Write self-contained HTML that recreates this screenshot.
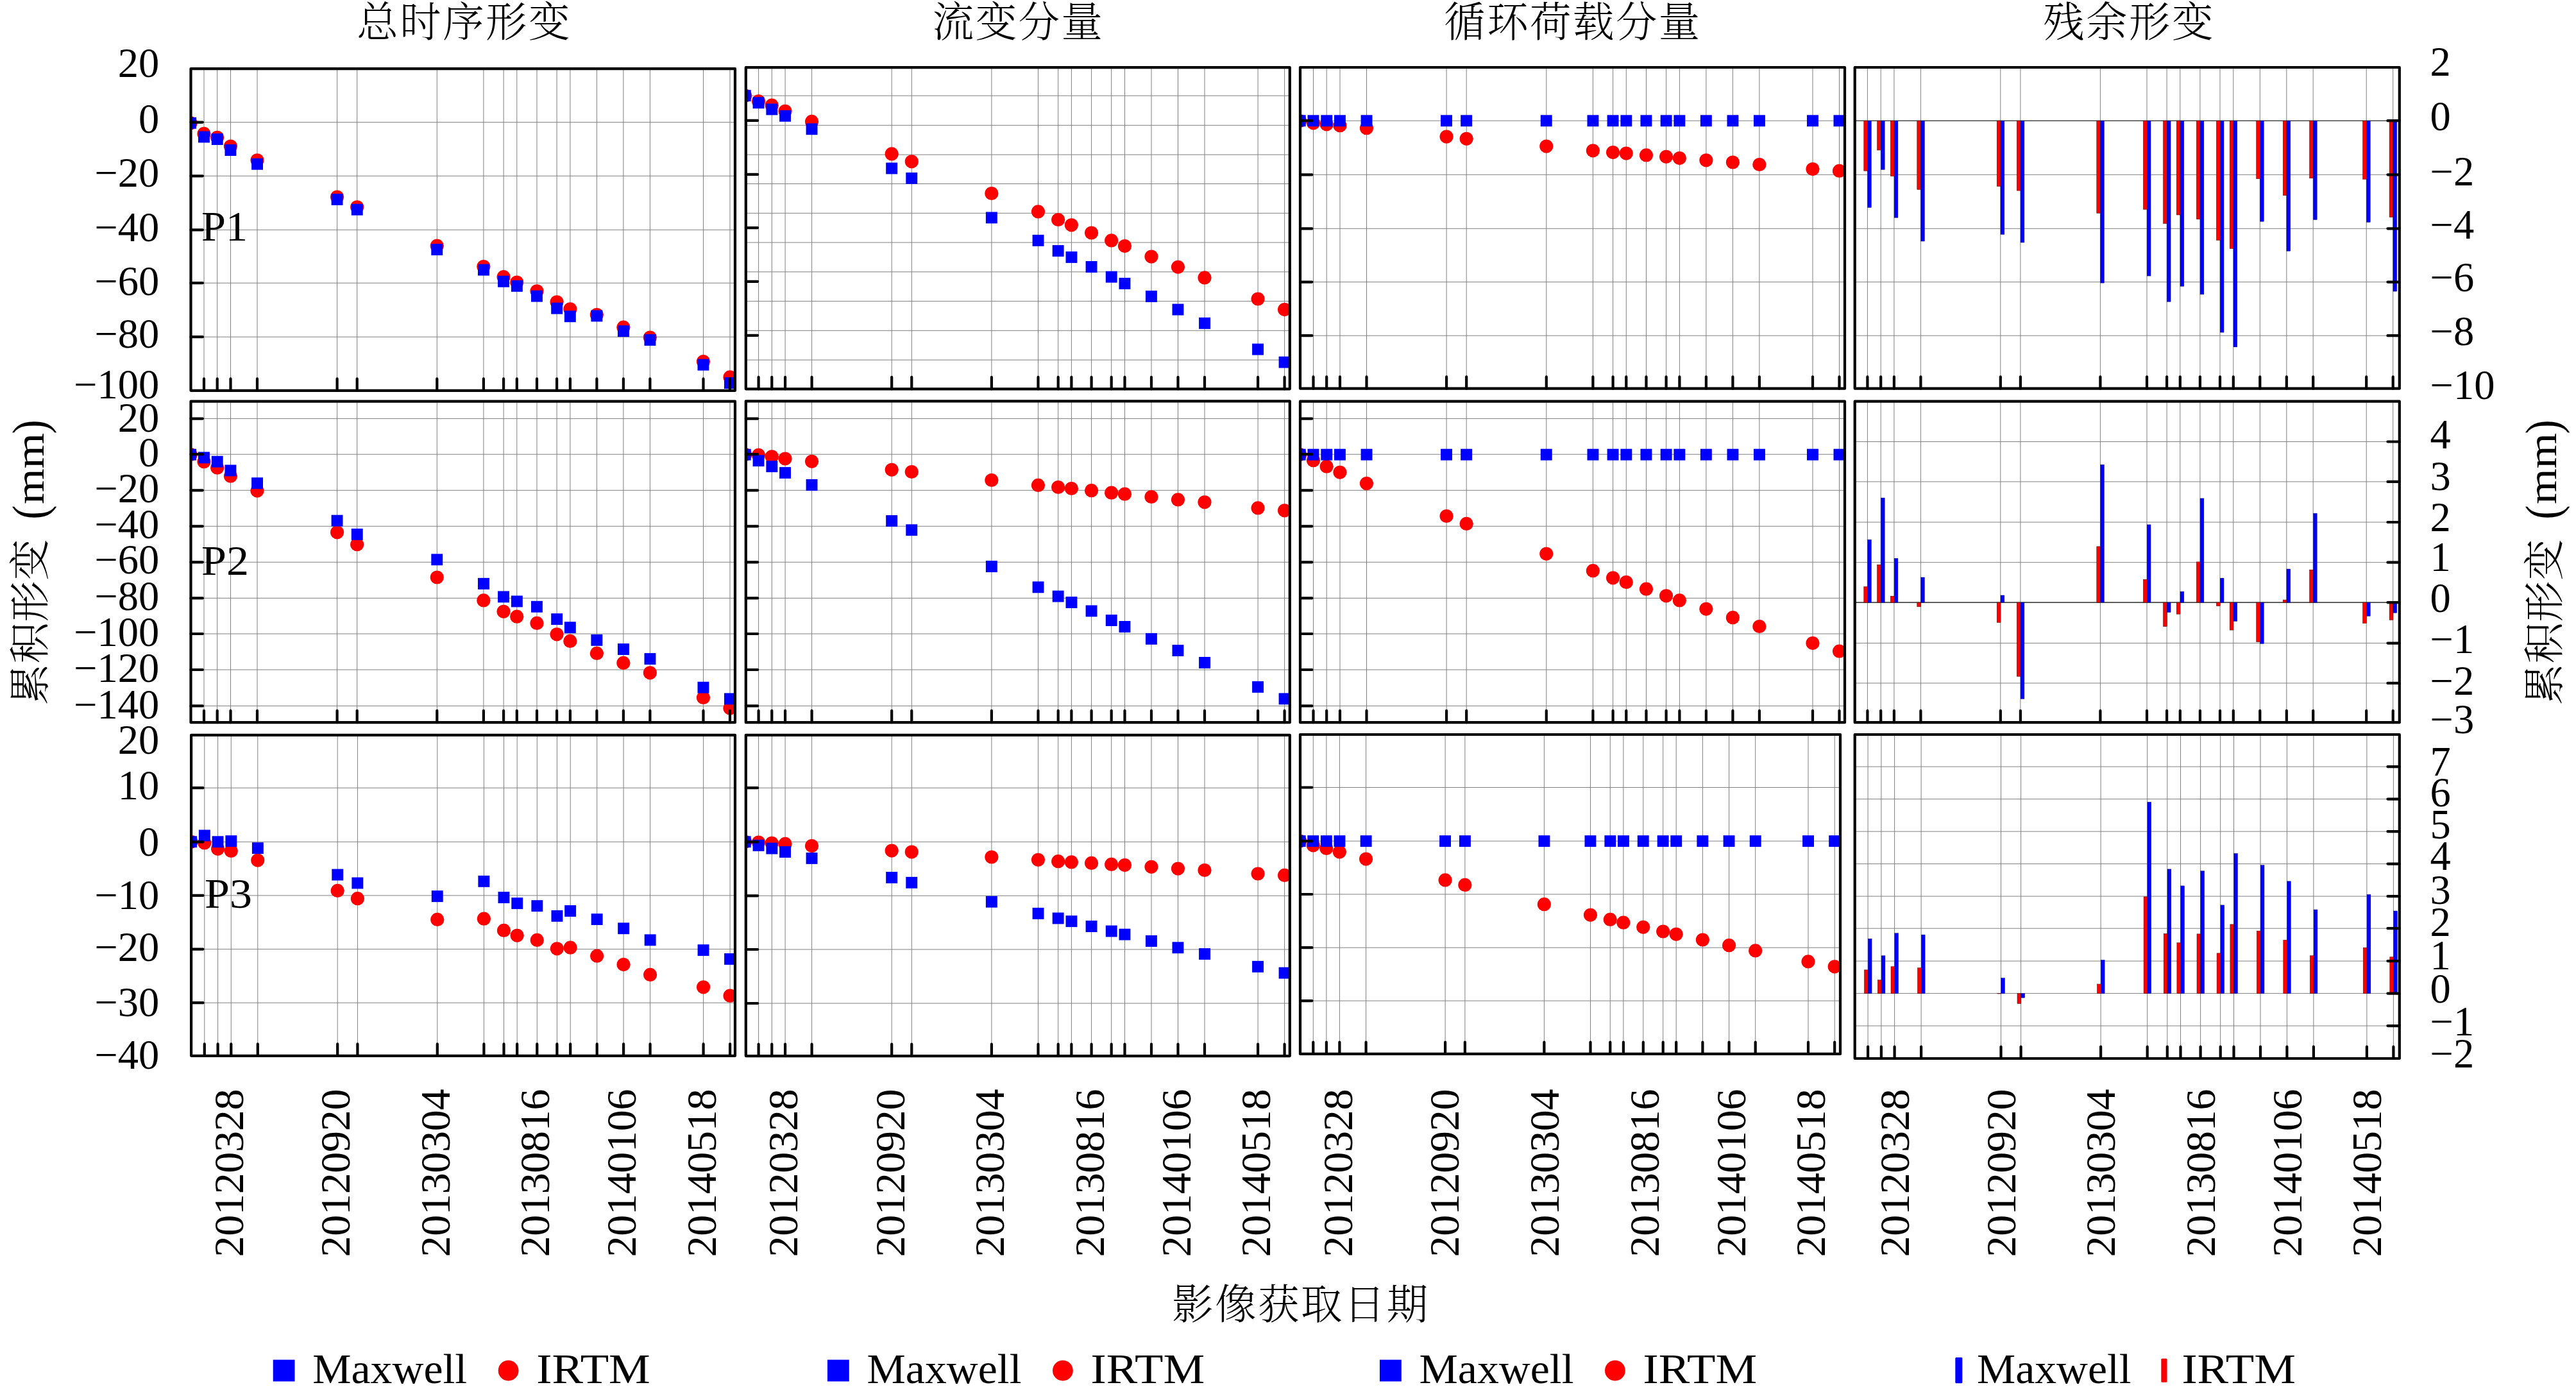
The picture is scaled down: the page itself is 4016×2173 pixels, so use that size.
<!DOCTYPE html>
<html lang="zh"><head><meta charset="utf-8"><title>Time-series deformation</title>
<style>html,body{margin:0;padding:0;background:#fff}svg{display:block}</style></head>
<body>
<svg width="4016" height="2173" viewBox="0 0 4016 2173">
<rect width="4016" height="2173" fill="#fff"/>
<defs>
<clipPath id="c11"><rect x="297.5" y="107.2" width="848.5" height="501.6"/></clipPath>
<clipPath id="c12"><rect x="1162.8" y="105.2" width="848" height="501.1"/></clipPath>
<clipPath id="c13"><rect x="2027" y="105" width="849" height="500.7"/></clipPath>
<clipPath id="c14"><rect x="2891.7" y="105" width="849.1" height="500.7"/></clipPath>
<clipPath id="c21"><rect x="297.5" y="625.7" width="848.5" height="500.5"/></clipPath>
<clipPath id="c22"><rect x="1162.8" y="625.3" width="848" height="500.9"/></clipPath>
<clipPath id="c23"><rect x="2027" y="625.7" width="849" height="500.5"/></clipPath>
<clipPath id="c24"><rect x="2891.7" y="625.7" width="849.1" height="500.5"/></clipPath>
<clipPath id="c31"><rect x="298.1" y="1145.8" width="847.9" height="500"/></clipPath>
<clipPath id="c32"><rect x="1162.8" y="1145.8" width="848" height="500.3"/></clipPath>
<clipPath id="c33"><rect x="2027" y="1145" width="842" height="497.9"/></clipPath>
<clipPath id="c34"><rect x="2891.7" y="1145" width="849.1" height="505"/></clipPath>
</defs>
<g id="p11">
<path d="M318 107.2V608.8M338.7 107.2V608.8M359.5 107.2V608.8M401 107.2V608.8M525.6 107.2V608.8M556.7 107.2V608.8M681.3 107.2V608.8M753.9 107.2V608.8M785.1 107.2V608.8M805.8 107.2V608.8M837 107.2V608.8M868.1 107.2V608.8M888.9 107.2V608.8M930.4 107.2V608.8M971.9 107.2V608.8M1013.4 107.2V608.8M1096.5 107.2V608.8M1138 107.2V608.8M297.5 190.6H1146M297.5 274.3H1146M297.5 358.3H1146M297.5 441.2H1146M297.5 525.2H1146" stroke="#808080" stroke-width="1.0" fill="none"/>
<g clip-path="url(#c11)">
<g fill="#f00"><circle cx="297.2" cy="191.8" r="10.6"/><circle cx="318" cy="208.4" r="10.6"/><circle cx="338.7" cy="214.3" r="10.6"/><circle cx="359.5" cy="228.1" r="10.6"/><circle cx="401" cy="249.8" r="10.6"/><circle cx="525.6" cy="307" r="10.6"/><circle cx="556.7" cy="322.8" r="10.6"/><circle cx="681.3" cy="383.2" r="10.6"/><circle cx="753.9" cy="415.5" r="10.6"/><circle cx="785.1" cy="431.7" r="10.6"/><circle cx="805.8" cy="440" r="10.6"/><circle cx="837" cy="453.8" r="10.6"/><circle cx="868.1" cy="470.8" r="10.6"/><circle cx="888.9" cy="481.8" r="10.6"/><circle cx="930.4" cy="490.5" r="10.6"/><circle cx="971.9" cy="510.2" r="10.6"/><circle cx="1013.4" cy="526" r="10.6"/><circle cx="1096.5" cy="563.5" r="10.6"/><circle cx="1138" cy="587.9" r="10.6"/></g>
<g fill="#00f"><rect x="288.2" y="182.8" width="17.9" height="17.9"/><rect x="309" y="204.5" width="17.9" height="17.9"/><rect x="329.8" y="208.1" width="17.9" height="17.9"/><rect x="350.5" y="225.1" width="17.9" height="17.9"/><rect x="392.1" y="246.8" width="17.9" height="17.9"/><rect x="516.6" y="302" width="17.9" height="17.9"/><rect x="547.8" y="317.8" width="17.9" height="17.9"/><rect x="672.3" y="380.1" width="17.9" height="17.9"/><rect x="745" y="411.7" width="17.9" height="17.9"/><rect x="776.1" y="429.8" width="17.9" height="17.9"/><rect x="796.9" y="436.9" width="17.9" height="17.9"/><rect x="828" y="452.7" width="17.9" height="17.9"/><rect x="859.2" y="471.7" width="17.9" height="17.9"/><rect x="879.9" y="484.3" width="17.9" height="17.9"/><rect x="921.4" y="483.5" width="17.9" height="17.9"/><rect x="963" y="507.2" width="17.9" height="17.9"/><rect x="1004.5" y="521" width="17.9" height="17.9"/><rect x="1087.5" y="559.7" width="17.9" height="17.9"/><rect x="1129" y="588.1" width="17.9" height="17.9"/></g>
</g>
<path d="M318 608.8V590.4M338.7 608.8V590.4M359.5 608.8V590.4M401 608.8V590.4M525.6 608.8V590.4M556.7 608.8V590.4M681.3 608.8V590.4M753.9 608.8V590.4M785.1 608.8V590.4M805.8 608.8V590.4M837 608.8V590.4M868.1 608.8V590.4M888.9 608.8V590.4M930.4 608.8V590.4M971.9 608.8V590.4M1013.4 608.8V590.4M1096.5 608.8V590.4M1138 608.8V590.4M297.5 190.6H315.9M297.5 274.3H315.9M297.5 358.3H315.9M297.5 441.2H315.9M297.5 525.2H315.9" stroke="#000" stroke-width="4.2" stroke-linecap="round" fill="none"/>
<rect x="297.5" y="107.2" width="848.5" height="501.6" fill="none" stroke="#000" stroke-width="4.2" stroke-linejoin="round"/>
</g>
<g id="p12">
<path d="M1182.6 105.2V606.3M1203.3 105.2V606.3M1224.1 105.2V606.3M1265.6 105.2V606.3M1390.2 105.2V606.3M1421.3 105.2V606.3M1545.9 105.2V606.3M1618.5 105.2V606.3M1649.7 105.2V606.3M1670.4 105.2V606.3M1701.6 105.2V606.3M1732.7 105.2V606.3M1753.5 105.2V606.3M1795 105.2V606.3M1836.5 105.2V606.3M1878 105.2V606.3M1961.1 105.2V606.3M2002.6 105.2V606.3M1162.8 149.2H2010.8M1162.8 195.3H2010.8M1162.8 241.1H2010.8M1162.8 286.5H2010.8M1162.8 332.3H2010.8M1162.8 378H2010.8M1162.8 423.8H2010.8M1162.8 469.6H2010.8M1162.8 515.3H2010.8M1162.8 561.1H2010.8" stroke="#808080" stroke-width="1.0" fill="none"/>
<g clip-path="url(#c12)">
<g fill="#f00"><circle cx="1161.8" cy="149.2" r="10.6"/><circle cx="1182.6" cy="157.9" r="10.6"/><circle cx="1203.3" cy="164.2" r="10.6"/><circle cx="1224.1" cy="173.3" r="10.6"/><circle cx="1265.6" cy="189.4" r="10.6"/><circle cx="1390.2" cy="239.9" r="10.6"/><circle cx="1421.3" cy="251.8" r="10.6"/><circle cx="1545.9" cy="301.5" r="10.6"/><circle cx="1618.5" cy="329.9" r="10.6"/><circle cx="1649.7" cy="342.5" r="10.6"/><circle cx="1670.4" cy="350.8" r="10.6"/><circle cx="1701.6" cy="363" r="10.6"/><circle cx="1732.7" cy="374.9" r="10.6"/><circle cx="1753.5" cy="383.6" r="10.6"/><circle cx="1795" cy="400.1" r="10.6"/><circle cx="1836.5" cy="416.3" r="10.6"/><circle cx="1878" cy="432.9" r="10.6"/><circle cx="1961.1" cy="466" r="10.6"/><circle cx="2002.6" cy="482.6" r="10.6"/></g>
<g fill="#00f"><rect x="1152.8" y="140.2" width="17.9" height="17.9"/><rect x="1173.6" y="151.3" width="17.9" height="17.9"/><rect x="1194.4" y="161.5" width="17.9" height="17.9"/><rect x="1215.1" y="171.8" width="17.9" height="17.9"/><rect x="1256.6" y="192.3" width="17.9" height="17.9"/><rect x="1381.2" y="253.5" width="17.9" height="17.9"/><rect x="1412.3" y="268.9" width="17.9" height="17.9"/><rect x="1536.9" y="330.4" width="17.9" height="17.9"/><rect x="1609.6" y="365.9" width="17.9" height="17.9"/><rect x="1640.7" y="382.1" width="17.9" height="17.9"/><rect x="1661.5" y="392" width="17.9" height="17.9"/><rect x="1692.6" y="407" width="17.9" height="17.9"/><rect x="1723.8" y="422.7" width="17.9" height="17.9"/><rect x="1744.5" y="433" width="17.9" height="17.9"/><rect x="1786" y="453.1" width="17.9" height="17.9"/><rect x="1827.5" y="473.6" width="17.9" height="17.9"/><rect x="1869.1" y="494.9" width="17.9" height="17.9"/><rect x="1952.1" y="535.6" width="17.9" height="17.9"/><rect x="1993.6" y="555.7" width="17.9" height="17.9"/></g>
</g>
<path d="M1182.6 606.3V587.9M1203.3 606.3V587.9M1224.1 606.3V587.9M1265.6 606.3V587.9M1390.2 606.3V587.9M1421.3 606.3V587.9M1545.9 606.3V587.9M1618.5 606.3V587.9M1649.7 606.3V587.9M1670.4 606.3V587.9M1701.6 606.3V587.9M1732.7 606.3V587.9M1753.5 606.3V587.9M1795 606.3V587.9M1836.5 606.3V587.9M1878 606.3V587.9M1961.1 606.3V587.9M2002.6 606.3V587.9M1162.8 187.9H1181.2M1162.8 271.9H1181.2M1162.8 355.1H1181.2M1162.8 438.8H1181.2M1162.8 522.8H1181.2" stroke="#000" stroke-width="4.2" stroke-linecap="round" fill="none"/>
<rect x="1162.8" y="105.2" width="848" height="501.1" fill="none" stroke="#000" stroke-width="4.2" stroke-linejoin="round"/>
</g>
<g id="p13">
<path d="M2047.5 105V605.7M2068.2 105V605.7M2089 105V605.7M2130.5 105V605.7M2255.1 105V605.7M2286.2 105V605.7M2410.8 105V605.7M2483.4 105V605.7M2514.6 105V605.7M2535.3 105V605.7M2566.5 105V605.7M2597.6 105V605.7M2618.4 105V605.7M2659.9 105V605.7M2701.4 105V605.7M2742.9 105V605.7M2826 105V605.7M2867.5 105V605.7M2027 188.2H2876M2027 272.3H2876M2027 356.3H2876M2027 439.6H2876M2027 523.2H2876" stroke="#808080" stroke-width="1.0" fill="none"/>
<g clip-path="url(#c13)">
<g fill="#f00"><circle cx="2026.7" cy="188.6" r="10.6"/><circle cx="2047.5" cy="191.8" r="10.6"/><circle cx="2068.2" cy="193.8" r="10.6"/><circle cx="2089" cy="195.7" r="10.6"/><circle cx="2130.5" cy="199.7" r="10.6"/><circle cx="2255.1" cy="213.1" r="10.6"/><circle cx="2286.2" cy="216.3" r="10.6"/><circle cx="2410.8" cy="228.1" r="10.6"/><circle cx="2483.4" cy="234.8" r="10.6"/><circle cx="2514.6" cy="237.6" r="10.6"/><circle cx="2535.3" cy="239.1" r="10.6"/><circle cx="2566.5" cy="241.9" r="10.6"/><circle cx="2597.6" cy="244.3" r="10.6"/><circle cx="2618.4" cy="246.6" r="10.6"/><circle cx="2659.9" cy="249.8" r="10.6"/><circle cx="2701.4" cy="253" r="10.6"/><circle cx="2742.9" cy="256.5" r="10.6"/><circle cx="2826" cy="263.6" r="10.6"/><circle cx="2867.5" cy="266.4" r="10.6"/></g>
<g fill="#00f"><rect x="2017.8" y="179.3" width="17.9" height="17.9"/><rect x="2038.5" y="179.3" width="17.9" height="17.9"/><rect x="2059.3" y="179.3" width="17.9" height="17.9"/><rect x="2080" y="179.3" width="17.9" height="17.9"/><rect x="2121.6" y="179.3" width="17.9" height="17.9"/><rect x="2246.1" y="179.3" width="17.9" height="17.9"/><rect x="2277.2" y="179.3" width="17.9" height="17.9"/><rect x="2401.8" y="179.3" width="17.9" height="17.9"/><rect x="2474.5" y="179.3" width="17.9" height="17.9"/><rect x="2505.6" y="179.3" width="17.9" height="17.9"/><rect x="2526.4" y="179.3" width="17.9" height="17.9"/><rect x="2557.5" y="179.3" width="17.9" height="17.9"/><rect x="2588.7" y="179.3" width="17.9" height="17.9"/><rect x="2609.4" y="179.3" width="17.9" height="17.9"/><rect x="2650.9" y="179.3" width="17.9" height="17.9"/><rect x="2692.5" y="179.3" width="17.9" height="17.9"/><rect x="2734" y="179.3" width="17.9" height="17.9"/><rect x="2817" y="179.3" width="17.9" height="17.9"/><rect x="2858.5" y="179.3" width="17.9" height="17.9"/></g>
</g>
<path d="M2047.5 605.7V587.3M2068.2 605.7V587.3M2089 605.7V587.3M2130.5 605.7V587.3M2255.1 605.7V587.3M2286.2 605.7V587.3M2410.8 605.7V587.3M2483.4 605.7V587.3M2514.6 605.7V587.3M2535.3 605.7V587.3M2566.5 605.7V587.3M2597.6 605.7V587.3M2618.4 605.7V587.3M2659.9 605.7V587.3M2701.4 605.7V587.3M2742.9 605.7V587.3M2826 605.7V587.3M2867.5 605.7V587.3M2027 188.2H2045.4M2027 272.3H2045.4M2027 356.3H2045.4M2027 439.6H2045.4M2027 523.2H2045.4" stroke="#000" stroke-width="4.2" stroke-linecap="round" fill="none"/>
<rect x="2027" y="105" width="849" height="500.7" fill="none" stroke="#000" stroke-width="4.2" stroke-linejoin="round"/>
</g>
<g id="p14">
<path d="M2911.4 105V605.7M2932.2 105V605.7M2952.9 105V605.7M2994.4 105V605.7M3118.8 105V605.7M3149.9 105V605.7M3274.4 105V605.7M3347 105V605.7M3378.1 105V605.7M3398.8 105V605.7M3429.9 105V605.7M3461 105V605.7M3481.8 105V605.7M3523.3 105V605.7M3564.8 105V605.7M3606.2 105V605.7M3689.2 105V605.7M3730.7 105V605.7M2891.7 188.2H3740.8M2891.7 272.3H3740.8M2891.7 356.3H3740.8M2891.7 439.6H3740.8M2891.7 523.2H3740.8" stroke="#808080" stroke-width="1.0" fill="none"/>
<g clip-path="url(#c14)">
<path d="M2891.7 188.2H3740.8" stroke="#222" stroke-width="1.1"/>
<g fill="#f00" stroke="#400" stroke-width="0.5"><rect x="2905.8" y="188.2" width="5.8" height="78.1"/><rect x="2926.6" y="188.2" width="5.8" height="45.8"/><rect x="2947.3" y="188.2" width="5.8" height="86.4"/><rect x="2988.8" y="188.2" width="5.8" height="107.3"/><rect x="3113.2" y="188.2" width="5.8" height="102.2"/><rect x="3144.3" y="188.2" width="5.8" height="108.9"/><rect x="3268.8" y="188.2" width="5.8" height="144"/><rect x="3341.4" y="188.2" width="5.8" height="138.1"/><rect x="3372.5" y="188.2" width="5.8" height="160.2"/><rect x="3393.2" y="188.2" width="5.8" height="146.8"/><rect x="3424.3" y="188.2" width="5.8" height="153.5"/><rect x="3455.4" y="188.2" width="5.8" height="186.2"/><rect x="3476.2" y="188.2" width="5.8" height="199.3"/><rect x="3517.7" y="188.2" width="5.8" height="90.4"/><rect x="3559.2" y="188.2" width="5.8" height="116.4"/><rect x="3600.6" y="188.2" width="5.8" height="89.6"/><rect x="3683.6" y="188.2" width="5.8" height="91.1"/><rect x="3725.1" y="188.2" width="5.8" height="150.3"/></g>
<g fill="#00f" stroke="#004" stroke-width="0.4"><rect x="2911.6" y="188.2" width="5.8" height="135.3"/><rect x="2932.4" y="188.2" width="5.8" height="76.2"/><rect x="2953.1" y="188.2" width="5.8" height="151.1"/><rect x="2994.6" y="188.2" width="5.8" height="187.8"/><rect x="3119" y="188.2" width="5.8" height="177.2"/><rect x="3150.1" y="188.2" width="5.8" height="189.8"/><rect x="3274.6" y="188.2" width="5.8" height="252.9"/><rect x="3347.2" y="188.2" width="5.8" height="241.9"/><rect x="3378.3" y="188.2" width="5.8" height="282.1"/><rect x="3399" y="188.2" width="5.8" height="258"/><rect x="3430.1" y="188.2" width="5.8" height="270.7"/><rect x="3461.2" y="188.2" width="5.8" height="329.9"/><rect x="3482" y="188.2" width="5.8" height="352.7"/><rect x="3523.5" y="188.2" width="5.8" height="157"/><rect x="3564.9" y="188.2" width="5.8" height="203.2"/><rect x="3606.4" y="188.2" width="5.8" height="154.3"/><rect x="3689.4" y="188.2" width="5.8" height="158.2"/><rect x="3730.9" y="188.2" width="5.8" height="265.9"/></g>
</g>
<path d="M2911.4 605.7V587.3M2932.2 605.7V587.3M2952.9 605.7V587.3M2994.4 605.7V587.3M3118.8 605.7V587.3M3149.9 605.7V587.3M3274.4 605.7V587.3M3347 605.7V587.3M3378.1 605.7V587.3M3398.8 605.7V587.3M3429.9 605.7V587.3M3461 605.7V587.3M3481.8 605.7V587.3M3523.3 605.7V587.3M3564.8 605.7V587.3M3606.2 605.7V587.3M3689.2 605.7V587.3M3730.7 605.7V587.3M3740.8 188.2H3722.4M3740.8 272.3H3722.4M3740.8 356.3H3722.4M3740.8 439.6H3722.4M3740.8 523.2H3722.4" stroke="#000" stroke-width="4.2" stroke-linecap="round" fill="none"/>
<rect x="2891.7" y="105" width="849.1" height="500.7" fill="none" stroke="#000" stroke-width="4.2" stroke-linejoin="round"/>
</g>
<g id="p21">
<path d="M318 625.7V1126.2M338.7 625.7V1126.2M359.5 625.7V1126.2M401 625.7V1126.2M525.6 625.7V1126.2M556.7 625.7V1126.2M681.3 625.7V1126.2M753.9 625.7V1126.2M785.1 625.7V1126.2M805.8 625.7V1126.2M837 625.7V1126.2M868.1 625.7V1126.2M888.9 625.7V1126.2M930.4 625.7V1126.2M971.9 625.7V1126.2M1013.4 625.7V1126.2M1096.5 625.7V1126.2M1138 625.7V1126.2M297.5 652.6H1146M297.5 708.2H1146M297.5 764.3H1146M297.5 820.3H1146M297.5 876.3H1146M297.5 932.4H1146M297.5 988H1146M297.5 1044H1146M297.5 1100.4H1146" stroke="#808080" stroke-width="1.0" fill="none"/>
<g clip-path="url(#c21)">
<g fill="#f00"><circle cx="297.2" cy="708.6" r="10.6"/><circle cx="318" cy="719.7" r="10.6"/><circle cx="338.7" cy="729.2" r="10.6"/><circle cx="359.5" cy="742.2" r="10.6"/><circle cx="401" cy="765.1" r="10.6"/><circle cx="525.6" cy="829.8" r="10.6"/><circle cx="556.7" cy="848.7" r="10.6"/><circle cx="681.3" cy="900" r="10.6"/><circle cx="753.9" cy="935.9" r="10.6"/><circle cx="785.1" cy="953.3" r="10.6"/><circle cx="805.8" cy="961.2" r="10.6"/><circle cx="837" cy="971.4" r="10.6"/><circle cx="868.1" cy="988.8" r="10.6"/><circle cx="888.9" cy="999.4" r="10.6"/><circle cx="930.4" cy="1018.4" r="10.6"/><circle cx="971.9" cy="1033.4" r="10.6"/><circle cx="1013.4" cy="1048.8" r="10.6"/><circle cx="1096.5" cy="1087.4" r="10.6"/><circle cx="1138" cy="1104" r="10.6"/></g>
<g fill="#00f"><rect x="288.2" y="699.7" width="17.9" height="17.9"/><rect x="309" y="704.4" width="17.9" height="17.9"/><rect x="329.8" y="710.7" width="17.9" height="17.9"/><rect x="350.5" y="724.5" width="17.9" height="17.9"/><rect x="392.1" y="744.3" width="17.9" height="17.9"/><rect x="516.6" y="802.7" width="17.9" height="17.9"/><rect x="547.8" y="824" width="17.9" height="17.9"/><rect x="672.3" y="863.4" width="17.9" height="17.9"/><rect x="745" y="900.9" width="17.9" height="17.9"/><rect x="776.1" y="921.4" width="17.9" height="17.9"/><rect x="796.9" y="928.5" width="17.9" height="17.9"/><rect x="828" y="936.8" width="17.9" height="17.9"/><rect x="859.2" y="956.2" width="17.9" height="17.9"/><rect x="879.9" y="969.2" width="17.9" height="17.9"/><rect x="921.4" y="988.9" width="17.9" height="17.9"/><rect x="963" y="1003.1" width="17.9" height="17.9"/><rect x="1004.5" y="1018.1" width="17.9" height="17.9"/><rect x="1087.5" y="1062.7" width="17.9" height="17.9"/><rect x="1129" y="1080.4" width="17.9" height="17.9"/></g>
</g>
<path d="M318 1126.2V1107.8M338.7 1126.2V1107.8M359.5 1126.2V1107.8M401 1126.2V1107.8M525.6 1126.2V1107.8M556.7 1126.2V1107.8M681.3 1126.2V1107.8M753.9 1126.2V1107.8M785.1 1126.2V1107.8M805.8 1126.2V1107.8M837 1126.2V1107.8M868.1 1126.2V1107.8M888.9 1126.2V1107.8M930.4 1126.2V1107.8M971.9 1126.2V1107.8M1013.4 1126.2V1107.8M1096.5 1126.2V1107.8M1138 1126.2V1107.8M297.5 652.6H315.9M297.5 708.2H315.9M297.5 764.3H315.9M297.5 820.3H315.9M297.5 876.3H315.9M297.5 932.4H315.9M297.5 988H315.9M297.5 1044H315.9M297.5 1100.4H315.9" stroke="#000" stroke-width="4.2" stroke-linecap="round" fill="none"/>
<rect x="297.5" y="625.7" width="848.5" height="500.5" fill="none" stroke="#000" stroke-width="4.2" stroke-linejoin="round"/>
</g>
<g id="p22">
<path d="M1182.6 625.3V1126.2M1203.3 625.3V1126.2M1224.1 625.3V1126.2M1265.6 625.3V1126.2M1390.2 625.3V1126.2M1421.3 625.3V1126.2M1545.9 625.3V1126.2M1618.5 625.3V1126.2M1649.7 625.3V1126.2M1670.4 625.3V1126.2M1701.6 625.3V1126.2M1732.7 625.3V1126.2M1753.5 625.3V1126.2M1795 625.3V1126.2M1836.5 625.3V1126.2M1878 625.3V1126.2M1961.1 625.3V1126.2M2002.6 625.3V1126.2M1162.8 652.6H2010.8M1162.8 708.2H2010.8M1162.8 764.3H2010.8M1162.8 820.3H2010.8M1162.8 876.3H2010.8M1162.8 932.4H2010.8M1162.8 988H2010.8M1162.8 1044H2010.8M1162.8 1100.4H2010.8" stroke="#808080" stroke-width="1.0" fill="none"/>
<g clip-path="url(#c22)">
<g fill="#f00"><circle cx="1161.8" cy="708.6" r="10.6"/><circle cx="1182.6" cy="709.4" r="10.6"/><circle cx="1203.3" cy="711.8" r="10.6"/><circle cx="1224.1" cy="715" r="10.6"/><circle cx="1265.6" cy="719.3" r="10.6"/><circle cx="1390.2" cy="732.3" r="10.6"/><circle cx="1421.3" cy="735.5" r="10.6"/><circle cx="1545.9" cy="748.5" r="10.6"/><circle cx="1618.5" cy="756.4" r="10.6"/><circle cx="1649.7" cy="759.5" r="10.6"/><circle cx="1670.4" cy="761.5" r="10.6"/><circle cx="1701.6" cy="764.7" r="10.6"/><circle cx="1732.7" cy="768.2" r="10.6"/><circle cx="1753.5" cy="770.2" r="10.6"/><circle cx="1795" cy="774.5" r="10.6"/><circle cx="1836.5" cy="778.9" r="10.6"/><circle cx="1878" cy="782.8" r="10.6"/><circle cx="1961.1" cy="791.9" r="10.6"/><circle cx="2002.6" cy="795.8" r="10.6"/></g>
<g fill="#00f"><rect x="1152.8" y="699.7" width="17.9" height="17.9"/><rect x="1173.6" y="709.2" width="17.9" height="17.9"/><rect x="1194.4" y="718.2" width="17.9" height="17.9"/><rect x="1215.1" y="728.1" width="17.9" height="17.9"/><rect x="1256.6" y="747" width="17.9" height="17.9"/><rect x="1381.2" y="803.1" width="17.9" height="17.9"/><rect x="1412.3" y="817.3" width="17.9" height="17.9"/><rect x="1536.9" y="874.1" width="17.9" height="17.9"/><rect x="1609.6" y="906.4" width="17.9" height="17.9"/><rect x="1640.7" y="920.6" width="17.9" height="17.9"/><rect x="1661.5" y="930.1" width="17.9" height="17.9"/><rect x="1692.6" y="943.5" width="17.9" height="17.9"/><rect x="1723.8" y="958.1" width="17.9" height="17.9"/><rect x="1744.5" y="968" width="17.9" height="17.9"/><rect x="1786" y="986.9" width="17.9" height="17.9"/><rect x="1827.5" y="1005.1" width="17.9" height="17.9"/><rect x="1869.1" y="1024" width="17.9" height="17.9"/><rect x="1952.1" y="1061.9" width="17.9" height="17.9"/><rect x="1993.6" y="1080.4" width="17.9" height="17.9"/></g>
</g>
<path d="M1182.6 1126.2V1107.8M1203.3 1126.2V1107.8M1224.1 1126.2V1107.8M1265.6 1126.2V1107.8M1390.2 1126.2V1107.8M1421.3 1126.2V1107.8M1545.9 1126.2V1107.8M1618.5 1126.2V1107.8M1649.7 1126.2V1107.8M1670.4 1126.2V1107.8M1701.6 1126.2V1107.8M1732.7 1126.2V1107.8M1753.5 1126.2V1107.8M1795 1126.2V1107.8M1836.5 1126.2V1107.8M1878 1126.2V1107.8M1961.1 1126.2V1107.8M2002.6 1126.2V1107.8M1162.8 652.6H1181.2M1162.8 708.2H1181.2M1162.8 764.3H1181.2M1162.8 820.3H1181.2M1162.8 876.3H1181.2M1162.8 932.4H1181.2M1162.8 988H1181.2M1162.8 1044H1181.2M1162.8 1100.4H1181.2" stroke="#000" stroke-width="4.2" stroke-linecap="round" fill="none"/>
<rect x="1162.8" y="625.3" width="848" height="500.9" fill="none" stroke="#000" stroke-width="4.2" stroke-linejoin="round"/>
</g>
<g id="p23">
<path d="M2047.5 625.7V1126.2M2068.2 625.7V1126.2M2089 625.7V1126.2M2130.5 625.7V1126.2M2255.1 625.7V1126.2M2286.2 625.7V1126.2M2410.8 625.7V1126.2M2483.4 625.7V1126.2M2514.6 625.7V1126.2M2535.3 625.7V1126.2M2566.5 625.7V1126.2M2597.6 625.7V1126.2M2618.4 625.7V1126.2M2659.9 625.7V1126.2M2701.4 625.7V1126.2M2742.9 625.7V1126.2M2826 625.7V1126.2M2867.5 625.7V1126.2M2027 652.6H2876M2027 708.2H2876M2027 764.3H2876M2027 820.3H2876M2027 876.3H2876M2027 932.4H2876M2027 988H2876M2027 1044H2876M2027 1100.4H2876" stroke="#808080" stroke-width="1.0" fill="none"/>
<g clip-path="url(#c23)">
<g fill="#f00"><circle cx="2026.7" cy="708.6" r="10.6"/><circle cx="2047.5" cy="717.7" r="10.6"/><circle cx="2068.2" cy="727.2" r="10.6"/><circle cx="2089" cy="736.3" r="10.6"/><circle cx="2130.5" cy="753.6" r="10.6"/><circle cx="2255.1" cy="804.5" r="10.6"/><circle cx="2286.2" cy="816.4" r="10.6"/><circle cx="2410.8" cy="863.3" r="10.6"/><circle cx="2483.4" cy="889.7" r="10.6"/><circle cx="2514.6" cy="900.8" r="10.6"/><circle cx="2535.3" cy="907.5" r="10.6"/><circle cx="2566.5" cy="918.2" r="10.6"/><circle cx="2597.6" cy="928.8" r="10.6"/><circle cx="2618.4" cy="935.9" r="10.6"/><circle cx="2659.9" cy="949.3" r="10.6"/><circle cx="2701.4" cy="962.7" r="10.6"/><circle cx="2742.9" cy="976.5" r="10.6"/><circle cx="2826" cy="1002.6" r="10.6"/><circle cx="2867.5" cy="1015.2" r="10.6"/></g>
<g fill="#00f"><rect x="2017.8" y="699.7" width="17.9" height="17.9"/><rect x="2038.5" y="699.7" width="17.9" height="17.9"/><rect x="2059.3" y="699.7" width="17.9" height="17.9"/><rect x="2080" y="699.7" width="17.9" height="17.9"/><rect x="2121.6" y="699.7" width="17.9" height="17.9"/><rect x="2246.1" y="699.7" width="17.9" height="17.9"/><rect x="2277.2" y="699.7" width="17.9" height="17.9"/><rect x="2401.8" y="699.7" width="17.9" height="17.9"/><rect x="2474.5" y="699.7" width="17.9" height="17.9"/><rect x="2505.6" y="699.7" width="17.9" height="17.9"/><rect x="2526.4" y="699.7" width="17.9" height="17.9"/><rect x="2557.5" y="699.7" width="17.9" height="17.9"/><rect x="2588.7" y="699.7" width="17.9" height="17.9"/><rect x="2609.4" y="699.7" width="17.9" height="17.9"/><rect x="2650.9" y="699.7" width="17.9" height="17.9"/><rect x="2692.5" y="699.7" width="17.9" height="17.9"/><rect x="2734" y="699.7" width="17.9" height="17.9"/><rect x="2817" y="699.7" width="17.9" height="17.9"/><rect x="2858.5" y="699.7" width="17.9" height="17.9"/></g>
</g>
<path d="M2047.5 1126.2V1107.8M2068.2 1126.2V1107.8M2089 1126.2V1107.8M2130.5 1126.2V1107.8M2255.1 1126.2V1107.8M2286.2 1126.2V1107.8M2410.8 1126.2V1107.8M2483.4 1126.2V1107.8M2514.6 1126.2V1107.8M2535.3 1126.2V1107.8M2566.5 1126.2V1107.8M2597.6 1126.2V1107.8M2618.4 1126.2V1107.8M2659.9 1126.2V1107.8M2701.4 1126.2V1107.8M2742.9 1126.2V1107.8M2826 1126.2V1107.8M2867.5 1126.2V1107.8M2027 652.6H2045.4M2027 708.2H2045.4M2027 764.3H2045.4M2027 820.3H2045.4M2027 876.3H2045.4M2027 932.4H2045.4M2027 988H2045.4M2027 1044H2045.4M2027 1100.4H2045.4" stroke="#000" stroke-width="4.2" stroke-linecap="round" fill="none"/>
<rect x="2027" y="625.7" width="849" height="500.5" fill="none" stroke="#000" stroke-width="4.2" stroke-linejoin="round"/>
</g>
<g id="p24">
<path d="M2911.4 625.7V1126.2M2932.2 625.7V1126.2M2952.9 625.7V1126.2M2994.4 625.7V1126.2M3118.8 625.7V1126.2M3149.9 625.7V1126.2M3274.4 625.7V1126.2M3347 625.7V1126.2M3378.1 625.7V1126.2M3398.8 625.7V1126.2M3429.9 625.7V1126.2M3461 625.7V1126.2M3481.8 625.7V1126.2M3523.3 625.7V1126.2M3564.8 625.7V1126.2M3606.2 625.7V1126.2M3689.2 625.7V1126.2M3730.7 625.7V1126.2M2891.7 688.5H3740.8M2891.7 750.9H3740.8M2891.7 814H3740.8M2891.7 876.7H3740.8M2891.7 939.1H3740.8M2891.7 1002.6H3740.8M2891.7 1064.9H3740.8" stroke="#808080" stroke-width="1.0" fill="none"/>
<g clip-path="url(#c24)">
<path d="M2891.7 939.1H3740.8" stroke="#222" stroke-width="1.1"/>
<g fill="#f00" stroke="#400" stroke-width="0.5"><rect x="2905.8" y="914.6" width="5.8" height="24.5"/><rect x="2926.6" y="880.3" width="5.8" height="58.8"/><rect x="2947.3" y="929.2" width="5.8" height="9.9"/><rect x="2988.8" y="939.1" width="5.8" height="6.7"/><rect x="3113.2" y="939.1" width="5.8" height="31.2"/><rect x="3144.3" y="939.1" width="5.8" height="115.2"/><rect x="3268.8" y="851.9" width="5.8" height="87.2"/><rect x="3341.4" y="903.2" width="5.8" height="35.9"/><rect x="3372.5" y="939.1" width="5.8" height="37.5"/><rect x="3393.2" y="939.1" width="5.8" height="18.1"/><rect x="3424.3" y="875.9" width="5.8" height="63.1"/><rect x="3455.4" y="939.1" width="5.8" height="5.5"/><rect x="3476.2" y="939.1" width="5.8" height="43"/><rect x="3517.7" y="939.1" width="5.8" height="61.6"/><rect x="3559.2" y="935.1" width="5.8" height="3.9"/><rect x="3600.6" y="888.2" width="5.8" height="50.9"/><rect x="3683.6" y="939.1" width="5.8" height="32.4"/><rect x="3725.1" y="939.1" width="5.8" height="27.2"/></g>
<g fill="#00f" stroke="#004" stroke-width="0.4"><rect x="2911.6" y="841.2" width="5.8" height="97.9"/><rect x="2932.4" y="776.1" width="5.8" height="163"/><rect x="2953.1" y="870.4" width="5.8" height="68.7"/><rect x="2994.6" y="900" width="5.8" height="39.1"/><rect x="3119" y="928" width="5.8" height="11"/><rect x="3150.1" y="939.1" width="5.8" height="150.3"/><rect x="3274.6" y="724.4" width="5.8" height="214.6"/><rect x="3347.2" y="817.9" width="5.8" height="121.1"/><rect x="3378.3" y="939.1" width="5.8" height="15.4"/><rect x="3399" y="922.1" width="5.8" height="17"/><rect x="3430.1" y="776.9" width="5.8" height="162.2"/><rect x="3461.2" y="901.2" width="5.8" height="37.9"/><rect x="3482" y="939.1" width="5.8" height="29.2"/><rect x="3523.5" y="939.1" width="5.8" height="64.3"/><rect x="3564.9" y="887" width="5.8" height="52.1"/><rect x="3606.4" y="800.2" width="5.8" height="138.9"/><rect x="3689.4" y="939.1" width="5.8" height="21.3"/><rect x="3730.9" y="939.1" width="5.8" height="16.2"/></g>
</g>
<path d="M2911.4 1126.2V1107.8M2932.2 1126.2V1107.8M2952.9 1126.2V1107.8M2994.4 1126.2V1107.8M3118.8 1126.2V1107.8M3149.9 1126.2V1107.8M3274.4 1126.2V1107.8M3347 1126.2V1107.8M3378.1 1126.2V1107.8M3398.8 1126.2V1107.8M3429.9 1126.2V1107.8M3461 1126.2V1107.8M3481.8 1126.2V1107.8M3523.3 1126.2V1107.8M3564.8 1126.2V1107.8M3606.2 1126.2V1107.8M3689.2 1126.2V1107.8M3730.7 1126.2V1107.8M3740.8 688.5H3722.4M3740.8 750.9H3722.4M3740.8 814H3722.4M3740.8 876.7H3722.4M3740.8 939.1H3722.4M3740.8 1002.6H3722.4M3740.8 1064.9H3722.4" stroke="#000" stroke-width="4.2" stroke-linecap="round" fill="none"/>
<rect x="2891.7" y="625.7" width="849.1" height="500.5" fill="none" stroke="#000" stroke-width="4.2" stroke-linejoin="round"/>
</g>
<g id="p31">
<path d="M318.8 1145.8V1645.8M339.6 1145.8V1645.8M360.3 1145.8V1645.8M401.8 1145.8V1645.8M526.2 1145.8V1645.8M557.4 1145.8V1645.8M681.8 1145.8V1645.8M754.4 1145.8V1645.8M785.5 1145.8V1645.8M806.2 1145.8V1645.8M837.3 1145.8V1645.8M868.4 1145.8V1645.8M889.2 1145.8V1645.8M930.7 1145.8V1645.8M972.1 1145.8V1645.8M1013.6 1145.8V1645.8M1096.6 1145.8V1645.8M1138.1 1145.8V1645.8M298.1 1228.2H1146M298.1 1312.3H1146M298.1 1395.9H1146M298.1 1479.6H1146M298.1 1563.2H1146" stroke="#808080" stroke-width="1.0" fill="none"/>
<g clip-path="url(#c31)">
<g fill="#f00"><circle cx="298.1" cy="1312.3" r="10.6"/><circle cx="318.8" cy="1313.9" r="10.6"/><circle cx="339.6" cy="1323.3" r="10.6"/><circle cx="360.3" cy="1326.5" r="10.6"/><circle cx="401.8" cy="1341.1" r="10.6"/><circle cx="526.2" cy="1388.4" r="10.6"/><circle cx="557.4" cy="1400.7" r="10.6"/><circle cx="681.8" cy="1433.4" r="10.6"/><circle cx="754.4" cy="1432.2" r="10.6"/><circle cx="785.5" cy="1450.4" r="10.6"/><circle cx="806.2" cy="1458.3" r="10.6"/><circle cx="837.3" cy="1465.4" r="10.6"/><circle cx="868.4" cy="1478.8" r="10.6"/><circle cx="889.2" cy="1477.2" r="10.6"/><circle cx="930.7" cy="1490.2" r="10.6"/><circle cx="972.1" cy="1503.6" r="10.6"/><circle cx="1013.6" cy="1519.4" r="10.6"/><circle cx="1096.6" cy="1538.8" r="10.6"/><circle cx="1138.1" cy="1552.2" r="10.6"/></g>
<g fill="#00f"><rect x="289.2" y="1303.3" width="17.9" height="17.9"/><rect x="309.9" y="1293.5" width="17.9" height="17.9"/><rect x="330.6" y="1303.3" width="17.9" height="17.9"/><rect x="351.4" y="1302.2" width="17.9" height="17.9"/><rect x="392.9" y="1313.2" width="17.9" height="17.9"/><rect x="517.3" y="1354.6" width="17.9" height="17.9"/><rect x="548.4" y="1367.6" width="17.9" height="17.9"/><rect x="672.8" y="1388.2" width="17.9" height="17.9"/><rect x="745.4" y="1364.9" width="17.9" height="17.9"/><rect x="776.5" y="1390.1" width="17.9" height="17.9"/><rect x="797.3" y="1399.2" width="17.9" height="17.9"/><rect x="828.4" y="1403.2" width="17.9" height="17.9"/><rect x="859.5" y="1418.9" width="17.9" height="17.9"/><rect x="880.2" y="1411.1" width="17.9" height="17.9"/><rect x="921.7" y="1424.1" width="17.9" height="17.9"/><rect x="963.2" y="1438.3" width="17.9" height="17.9"/><rect x="1004.7" y="1456.4" width="17.9" height="17.9"/><rect x="1087.6" y="1472.2" width="17.9" height="17.9"/><rect x="1129.1" y="1486" width="17.9" height="17.9"/></g>
</g>
<path d="M318.8 1645.8V1627.4M339.6 1645.8V1627.4M360.3 1645.8V1627.4M401.8 1645.8V1627.4M526.2 1645.8V1627.4M557.4 1645.8V1627.4M681.8 1645.8V1627.4M754.4 1645.8V1627.4M785.5 1645.8V1627.4M806.2 1645.8V1627.4M837.3 1645.8V1627.4M868.4 1645.8V1627.4M889.2 1645.8V1627.4M930.7 1645.8V1627.4M972.1 1645.8V1627.4M1013.6 1645.8V1627.4M1096.6 1645.8V1627.4M1138.1 1645.8V1627.4M298.1 1228.2H316.5M298.1 1312.3H316.5M298.1 1395.9H316.5M298.1 1479.6H316.5M298.1 1563.2H316.5" stroke="#000" stroke-width="4.2" stroke-linecap="round" fill="none"/>
<rect x="298.1" y="1145.8" width="847.9" height="500" fill="none" stroke="#000" stroke-width="4.2" stroke-linejoin="round"/>
</g>
<g id="p32">
<path d="M1182.6 1145.8V1646.1M1203.3 1145.8V1646.1M1224.1 1145.8V1646.1M1265.6 1145.8V1646.1M1390.2 1145.8V1646.1M1421.3 1145.8V1646.1M1545.9 1145.8V1646.1M1618.5 1145.8V1646.1M1649.7 1145.8V1646.1M1670.4 1145.8V1646.1M1701.6 1145.8V1646.1M1732.7 1145.8V1646.1M1753.5 1145.8V1646.1M1795 1145.8V1646.1M1836.5 1145.8V1646.1M1878 1145.8V1646.1M1961.1 1145.8V1646.1M2002.6 1145.8V1646.1M1162.8 1228.2H2010.8M1162.8 1312.3H2010.8M1162.8 1396.3H2010.8M1162.8 1480H2010.8M1162.8 1564H2010.8" stroke="#808080" stroke-width="1.0" fill="none"/>
<g clip-path="url(#c32)">
<g fill="#f00"><circle cx="1161.8" cy="1312.3" r="10.6"/><circle cx="1182.6" cy="1313.1" r="10.6"/><circle cx="1203.3" cy="1314.3" r="10.6"/><circle cx="1224.1" cy="1315.4" r="10.6"/><circle cx="1265.6" cy="1318.6" r="10.6"/><circle cx="1390.2" cy="1326.1" r="10.6"/><circle cx="1421.3" cy="1328.1" r="10.6"/><circle cx="1545.9" cy="1336" r="10.6"/><circle cx="1618.5" cy="1340.3" r="10.6"/><circle cx="1649.7" cy="1342.7" r="10.6"/><circle cx="1670.4" cy="1343.9" r="10.6"/><circle cx="1701.6" cy="1345.4" r="10.6"/><circle cx="1732.7" cy="1347.4" r="10.6"/><circle cx="1753.5" cy="1348.6" r="10.6"/><circle cx="1795" cy="1351.3" r="10.6"/><circle cx="1836.5" cy="1354.1" r="10.6"/><circle cx="1878" cy="1356.5" r="10.6"/><circle cx="1961.1" cy="1362" r="10.6"/><circle cx="2002.6" cy="1364.4" r="10.6"/></g>
<g fill="#00f"><rect x="1152.8" y="1303.3" width="17.9" height="17.9"/><rect x="1173.6" y="1308.9" width="17.9" height="17.9"/><rect x="1194.4" y="1313.6" width="17.9" height="17.9"/><rect x="1215.1" y="1319.1" width="17.9" height="17.9"/><rect x="1256.6" y="1329" width="17.9" height="17.9"/><rect x="1381.2" y="1359" width="17.9" height="17.9"/><rect x="1412.3" y="1366.9" width="17.9" height="17.9"/><rect x="1536.9" y="1396.8" width="17.9" height="17.9"/><rect x="1609.6" y="1415" width="17.9" height="17.9"/><rect x="1640.7" y="1422.5" width="17.9" height="17.9"/><rect x="1661.5" y="1427.2" width="17.9" height="17.9"/><rect x="1692.6" y="1435.1" width="17.9" height="17.9"/><rect x="1723.8" y="1442.6" width="17.9" height="17.9"/><rect x="1744.5" y="1447.7" width="17.9" height="17.9"/><rect x="1786" y="1458" width="17.9" height="17.9"/><rect x="1827.5" y="1468.3" width="17.9" height="17.9"/><rect x="1869.1" y="1478.1" width="17.9" height="17.9"/><rect x="1952.1" y="1497.9" width="17.9" height="17.9"/><rect x="1993.6" y="1507.7" width="17.9" height="17.9"/></g>
</g>
<path d="M1182.6 1646.1V1627.7M1203.3 1646.1V1627.7M1224.1 1646.1V1627.7M1265.6 1646.1V1627.7M1390.2 1646.1V1627.7M1421.3 1646.1V1627.7M1545.9 1646.1V1627.7M1618.5 1646.1V1627.7M1649.7 1646.1V1627.7M1670.4 1646.1V1627.7M1701.6 1646.1V1627.7M1732.7 1646.1V1627.7M1753.5 1646.1V1627.7M1795 1646.1V1627.7M1836.5 1646.1V1627.7M1878 1646.1V1627.7M1961.1 1646.1V1627.7M2002.6 1646.1V1627.7M1162.8 1228.2H1181.2M1162.8 1312.3H1181.2M1162.8 1396.3H1181.2M1162.8 1480H1181.2M1162.8 1564H1181.2" stroke="#000" stroke-width="4.2" stroke-linecap="round" fill="none"/>
<rect x="1162.8" y="1145.8" width="848" height="500.3" fill="none" stroke="#000" stroke-width="4.2" stroke-linejoin="round"/>
</g>
<g id="p33">
<path d="M2047.3 1145V1642.9M2067.9 1145V1642.9M2088.4 1145V1642.9M2129.6 1145V1642.9M2253.1 1145V1642.9M2283.9 1145V1642.9M2407.4 1145V1642.9M2479.5 1145V1642.9M2510.3 1145V1642.9M2530.9 1145V1642.9M2561.8 1145V1642.9M2592.7 1145V1642.9M2613.2 1145V1642.9M2654.4 1145V1642.9M2695.6 1145V1642.9M2736.7 1145V1642.9M2819 1145V1642.9M2860.2 1145V1642.9M2027 1227.5H2869M2027 1311.1H2869M2027 1394H2869M2027 1477.2H2869M2027 1560.1H2869" stroke="#808080" stroke-width="1.0" fill="none"/>
<g clip-path="url(#c33)">
<g fill="#f00"><circle cx="2026.7" cy="1311.1" r="10.6"/><circle cx="2047.3" cy="1317.8" r="10.6"/><circle cx="2067.9" cy="1322.5" r="10.6"/><circle cx="2088.4" cy="1328.1" r="10.6"/><circle cx="2129.6" cy="1339.1" r="10.6"/><circle cx="2253.1" cy="1371.9" r="10.6"/><circle cx="2283.9" cy="1379.4" r="10.6"/><circle cx="2407.4" cy="1409.7" r="10.6"/><circle cx="2479.5" cy="1426.3" r="10.6"/><circle cx="2510.3" cy="1433.4" r="10.6"/><circle cx="2530.9" cy="1438.2" r="10.6"/><circle cx="2561.8" cy="1445.3" r="10.6"/><circle cx="2592.7" cy="1452" r="10.6"/><circle cx="2613.2" cy="1456.3" r="10.6"/><circle cx="2654.4" cy="1465" r="10.6"/><circle cx="2695.6" cy="1473.7" r="10.6"/><circle cx="2736.7" cy="1481.9" r="10.6"/><circle cx="2819" cy="1498.9" r="10.6"/><circle cx="2860.2" cy="1506.8" r="10.6"/></g>
<g fill="#00f"><rect x="2017.8" y="1302.2" width="17.9" height="17.9"/><rect x="2038.3" y="1302.2" width="17.9" height="17.9"/><rect x="2058.9" y="1302.2" width="17.9" height="17.9"/><rect x="2079.5" y="1302.2" width="17.9" height="17.9"/><rect x="2120.7" y="1302.2" width="17.9" height="17.9"/><rect x="2244.1" y="1302.2" width="17.9" height="17.9"/><rect x="2275" y="1302.2" width="17.9" height="17.9"/><rect x="2398.5" y="1302.2" width="17.9" height="17.9"/><rect x="2470.5" y="1302.2" width="17.9" height="17.9"/><rect x="2501.4" y="1302.2" width="17.9" height="17.9"/><rect x="2522" y="1302.2" width="17.9" height="17.9"/><rect x="2552.8" y="1302.2" width="17.9" height="17.9"/><rect x="2583.7" y="1302.2" width="17.9" height="17.9"/><rect x="2604.3" y="1302.2" width="17.9" height="17.9"/><rect x="2645.4" y="1302.2" width="17.9" height="17.9"/><rect x="2686.6" y="1302.2" width="17.9" height="17.9"/><rect x="2727.8" y="1302.2" width="17.9" height="17.9"/><rect x="2810.1" y="1302.2" width="17.9" height="17.9"/><rect x="2851.2" y="1302.2" width="17.9" height="17.9"/></g>
</g>
<path d="M2047.3 1642.9V1624.5M2067.9 1642.9V1624.5M2088.4 1642.9V1624.5M2129.6 1642.9V1624.5M2253.1 1642.9V1624.5M2283.9 1642.9V1624.5M2407.4 1642.9V1624.5M2479.5 1642.9V1624.5M2510.3 1642.9V1624.5M2530.9 1642.9V1624.5M2561.8 1642.9V1624.5M2592.7 1642.9V1624.5M2613.2 1642.9V1624.5M2654.4 1642.9V1624.5M2695.6 1642.9V1624.5M2736.7 1642.9V1624.5M2819 1642.9V1624.5M2860.2 1642.9V1624.5M2027 1227.5H2045.4M2027 1311.1H2045.4M2027 1394H2045.4M2027 1477.2H2045.4M2027 1560.1H2045.4" stroke="#000" stroke-width="4.2" stroke-linecap="round" fill="none"/>
<rect x="2027" y="1145" width="842" height="497.9" fill="none" stroke="#000" stroke-width="4.2" stroke-linejoin="round"/>
</g>
<g id="p34">
<path d="M2912.1 1145V1650M2932.9 1145V1650M2953.6 1145V1650M2995.1 1145V1650M3119.5 1145V1650M3150.6 1145V1650M3275.1 1145V1650M3347.7 1145V1650M3378.8 1145V1650M3399.5 1145V1650M3430.6 1145V1650M3461.7 1145V1650M3482.5 1145V1650M3524 1145V1650M3565.4 1145V1650M3606.9 1145V1650M3689.9 1145V1650M3731.4 1145V1650M2891.7 1195.1H3740.8M2891.7 1245.6H3740.8M2891.7 1296.1H3740.8M2891.7 1346.6H3740.8M2891.7 1397.1H3740.8M2891.7 1447.2H3740.8M2891.7 1498.1H3740.8M2891.7 1548.6H3740.8M2891.7 1599.1H3740.8" stroke="#808080" stroke-width="1.0" fill="none"/>
<g clip-path="url(#c34)">
<g fill="#f00" stroke="#400" stroke-width="0.5"><rect x="2906.5" y="1511.9" width="5.8" height="36.7"/><rect x="2927.3" y="1527.7" width="5.8" height="20.9"/><rect x="2948" y="1506.8" width="5.8" height="41.8"/><rect x="2989.5" y="1508.8" width="5.8" height="39.9"/><rect x="3113.9" y="1548.6" width="5.8" height="0.4"/><rect x="3145" y="1548.6" width="5.8" height="15.8"/><rect x="3269.5" y="1534" width="5.8" height="14.6"/><rect x="3342.1" y="1397.9" width="5.8" height="150.7"/><rect x="3373.2" y="1455.5" width="5.8" height="93.1"/><rect x="3393.9" y="1469.7" width="5.8" height="78.9"/><rect x="3425" y="1455.9" width="5.8" height="92.7"/><rect x="3456.1" y="1485.9" width="5.8" height="62.7"/><rect x="3476.9" y="1440.9" width="5.8" height="107.7"/><rect x="3518.4" y="1451.2" width="5.8" height="97.5"/><rect x="3559.8" y="1465.4" width="5.8" height="83.3"/><rect x="3601.3" y="1489.8" width="5.8" height="58.8"/><rect x="3684.3" y="1477.2" width="5.8" height="71.4"/><rect x="3725.8" y="1491.8" width="5.8" height="56.8"/></g>
<g fill="#00f" stroke="#004" stroke-width="0.4"><rect x="2912.3" y="1463.4" width="5.8" height="85.2"/><rect x="2933.1" y="1489.8" width="5.8" height="58.8"/><rect x="2953.8" y="1454.7" width="5.8" height="93.9"/><rect x="2995.3" y="1457.1" width="5.8" height="91.5"/><rect x="3119.7" y="1524.6" width="5.8" height="24.1"/><rect x="3150.8" y="1548.6" width="5.8" height="6.7"/><rect x="3275.3" y="1496.5" width="5.8" height="52.1"/><rect x="3347.9" y="1250.3" width="5.8" height="298.3"/><rect x="3379" y="1354.9" width="5.8" height="193.7"/><rect x="3399.7" y="1380.9" width="5.8" height="167.7"/><rect x="3430.8" y="1357.7" width="5.8" height="191"/><rect x="3461.9" y="1410.9" width="5.8" height="137.7"/><rect x="3482.7" y="1330.4" width="5.8" height="218.2"/><rect x="3524.2" y="1348.6" width="5.8" height="200"/><rect x="3565.6" y="1373.8" width="5.8" height="174.8"/><rect x="3607.1" y="1418" width="5.8" height="130.6"/><rect x="3690.1" y="1394.4" width="5.8" height="154.3"/><rect x="3731.6" y="1420" width="5.8" height="128.6"/></g>
</g>
<path d="M2912.1 1650V1631.6M2932.9 1650V1631.6M2953.6 1650V1631.6M2995.1 1650V1631.6M3119.5 1650V1631.6M3150.6 1650V1631.6M3275.1 1650V1631.6M3347.7 1650V1631.6M3378.8 1650V1631.6M3399.5 1650V1631.6M3430.6 1650V1631.6M3461.7 1650V1631.6M3482.5 1650V1631.6M3524 1650V1631.6M3565.4 1650V1631.6M3606.9 1650V1631.6M3689.9 1650V1631.6M3731.4 1650V1631.6M3740.8 1195.1H3722.4M3740.8 1245.6H3722.4M3740.8 1296.1H3722.4M3740.8 1346.6H3722.4M3740.8 1397.1H3722.4M3740.8 1447.2H3722.4M3740.8 1498.1H3722.4M3740.8 1548.6H3722.4M3740.8 1599.1H3722.4" stroke="#000" stroke-width="4.2" stroke-linecap="round" fill="none"/>
<rect x="2891.7" y="1145" width="849.1" height="505" fill="none" stroke="#000" stroke-width="4.2" stroke-linejoin="round"/>
</g>
<g font-family="'Liberation Serif',serif" font-size="64.5" fill="#000">
<text x="248.3" y="119.6" text-anchor="end">20</text>
<text x="248.3" y="207" text-anchor="end">0</text>
<text x="248.3" y="290.6" text-anchor="end">−20</text>
<text x="248.3" y="375.9" text-anchor="end">−40</text>
<text x="248.3" y="460.4" text-anchor="end">−60</text>
<text x="248.3" y="542.3" text-anchor="end">−80</text>
<text x="248.3" y="621.4" text-anchor="end">−100</text>
<text x="248.3" y="672.9" text-anchor="end">20</text>
<text x="248.3" y="726.7" text-anchor="end">0</text>
<text x="248.3" y="782.6" text-anchor="end">−20</text>
<text x="248.3" y="838.9" text-anchor="end">−40</text>
<text x="248.3" y="894.3" text-anchor="end">−60</text>
<text x="248.3" y="951.1" text-anchor="end">−80</text>
<text x="248.3" y="1007.1" text-anchor="end">−100</text>
<text x="248.3" y="1063.1" text-anchor="end">−120</text>
<text x="248.3" y="1119.6" text-anchor="end">−140</text>
<text x="248.3" y="1174.6" text-anchor="end">20</text>
<text x="248.3" y="1246.2" text-anchor="end">10</text>
<text x="248.3" y="1333.5" text-anchor="end">0</text>
<text x="248.3" y="1417.2" text-anchor="end">−10</text>
<text x="248.3" y="1498.3" text-anchor="end">−20</text>
<text x="248.3" y="1583.6" text-anchor="end">−30</text>
<text x="248.3" y="1665.8" text-anchor="end">−40</text>
<text x="3788.5" y="117.5" text-anchor="start">2</text>
<text x="3788.5" y="202.8" text-anchor="start">0</text>
<text x="3788.5" y="288.7" text-anchor="start">−2</text>
<text x="3788.5" y="372" text-anchor="start">−4</text>
<text x="3788.5" y="453.5" text-anchor="start">−6</text>
<text x="3788.5" y="538.4" text-anchor="start">−8</text>
<text x="3788.5" y="621.6" text-anchor="start">−10</text>
<text x="3788.5" y="699.3" text-anchor="start">4</text>
<text x="3788.5" y="763.8" text-anchor="start">3</text>
<text x="3788.5" y="828.4" text-anchor="start">2</text>
<text x="3788.5" y="889.6" text-anchor="start">1</text>
<text x="3788.5" y="953.7" text-anchor="start">0</text>
<text x="3788.5" y="1017.9" text-anchor="start">−1</text>
<text x="3788.5" y="1083" text-anchor="start">−2</text>
<text x="3788.5" y="1143" text-anchor="start">−3</text>
<text x="3788.5" y="1208.7" text-anchor="start">7</text>
<text x="3788.5" y="1257" text-anchor="start">6</text>
<text x="3788.5" y="1306.9" text-anchor="start">5</text>
<text x="3788.5" y="1355.8" text-anchor="start">4</text>
<text x="3788.5" y="1408.9" text-anchor="start">3</text>
<text x="3788.5" y="1459.2" text-anchor="start">2</text>
<text x="3788.5" y="1510.8" text-anchor="start">1</text>
<text x="3788.5" y="1563" text-anchor="start">0</text>
<text x="3788.5" y="1614.4" text-anchor="start">−1</text>
<text x="3788.5" y="1664.3" text-anchor="start">−2</text>
</g>
<g font-family="'Liberation Serif',serif" font-size="66" fill="#000">
<text x="314" y="375.2" textLength="72" lengthAdjust="spacingAndGlyphs">P1</text>
<text x="314" y="896" textLength="74" lengthAdjust="spacingAndGlyphs">P2</text>
<text x="319" y="1415" textLength="74" lengthAdjust="spacingAndGlyphs">P3</text>
</g>
<g font-family="'Liberation Serif',serif" font-size="66" fill="#000">
<text transform="translate(378.8 1959.5) rotate(-90)" textLength="262" lengthAdjust="spacing">20120328</text>
<text transform="translate(544.9 1959.5) rotate(-90)" textLength="262" lengthAdjust="spacing">20120920</text>
<text transform="translate(700.6 1959.5) rotate(-90)" textLength="262" lengthAdjust="spacing">20130304</text>
<text transform="translate(856.3 1959.5) rotate(-90)" textLength="262" lengthAdjust="spacing">20130816</text>
<text transform="translate(991.2 1959.5) rotate(-90)" textLength="262" lengthAdjust="spacing">20140106</text>
<text transform="translate(1115.8 1959.5) rotate(-90)" textLength="262" lengthAdjust="spacing">20140518</text>
<text transform="translate(1243.4 1959.5) rotate(-90)" textLength="262" lengthAdjust="spacing">20120328</text>
<text transform="translate(1409.5 1959.5) rotate(-90)" textLength="262" lengthAdjust="spacing">20120920</text>
<text transform="translate(1565.2 1959.5) rotate(-90)" textLength="262" lengthAdjust="spacing">20130304</text>
<text transform="translate(1720.9 1959.5) rotate(-90)" textLength="262" lengthAdjust="spacing">20130816</text>
<text transform="translate(1855.8 1959.5) rotate(-90)" textLength="262" lengthAdjust="spacing">20140106</text>
<text transform="translate(1980.4 1959.5) rotate(-90)" textLength="262" lengthAdjust="spacing">20140518</text>
<text transform="translate(2108.3 1959.5) rotate(-90)" textLength="262" lengthAdjust="spacing">20120328</text>
<text transform="translate(2274.4 1959.5) rotate(-90)" textLength="262" lengthAdjust="spacing">20120920</text>
<text transform="translate(2430.1 1959.5) rotate(-90)" textLength="262" lengthAdjust="spacing">20130304</text>
<text transform="translate(2585.8 1959.5) rotate(-90)" textLength="262" lengthAdjust="spacing">20130816</text>
<text transform="translate(2720.7 1959.5) rotate(-90)" textLength="262" lengthAdjust="spacing">20140106</text>
<text transform="translate(2845.3 1959.5) rotate(-90)" textLength="262" lengthAdjust="spacing">20140518</text>
<text transform="translate(2975.7 1959.5) rotate(-90)" textLength="262" lengthAdjust="spacing">20120328</text>
<text transform="translate(3141.6 1959.5) rotate(-90)" textLength="262" lengthAdjust="spacing">20120920</text>
<text transform="translate(3297.2 1959.5) rotate(-90)" textLength="262" lengthAdjust="spacing">20130304</text>
<text transform="translate(3452.7 1959.5) rotate(-90)" textLength="262" lengthAdjust="spacing">20130816</text>
<text transform="translate(3587.6 1959.5) rotate(-90)" textLength="262" lengthAdjust="spacing">20140106</text>
<text transform="translate(3712 1959.5) rotate(-90)" textLength="262" lengthAdjust="spacing">20140518</text>
</g>
<g font-family="'Noto Serif CJK SC','Noto Serif CJK JP',serif" font-size="64.5" font-weight="300" letter-spacing="2.4" fill="#000" text-anchor="middle">
<text x="723.6" y="56.5">总时序形变</text>
<text x="1587.6" y="56.5">流变分量</text>
<text x="2452" y="56.5">循环荷载分量</text>
<text x="3319" y="56.5">残余形变</text>
<text x="2028" y="2055.5">影像获取日期</text>
</g>
<text transform="translate(69.3 1099) rotate(-90)" font-family="'Noto Serif CJK SC','Noto Serif CJK JP',serif" font-size="64" font-weight="300" letter-spacing="0.8" fill="#000">累积形变</text>
<g transform="translate(67.5 807) rotate(-90)" font-family="'Liberation Serif',serif" fill="#000">
<text x="-3" y="4.5" font-size="76" transform="scale(0.86 1)">(</text>
<text x="21" y="0" font-size="64" textLength="111" lengthAdjust="spacingAndGlyphs">mm</text>
<text x="152" y="4.5" font-size="76" transform="scale(0.86 1)">)</text>
</g>
<text transform="translate(3988.5 1099) rotate(-90)" font-family="'Noto Serif CJK SC','Noto Serif CJK JP',serif" font-size="64" font-weight="300" letter-spacing="0.8" fill="#000">累积形变</text>
<g transform="translate(3985 807) rotate(-90)" font-family="'Liberation Serif',serif" fill="#000">
<text x="-3" y="4.5" font-size="76" transform="scale(0.86 1)">(</text>
<text x="21" y="0" font-size="64" textLength="111" lengthAdjust="spacingAndGlyphs">mm</text>
<text x="152" y="4.5" font-size="76" transform="scale(0.86 1)">)</text>
</g>
<g font-family="'Liberation Serif',serif" font-size="66" fill="#000">
<rect x="425.7" y="2119.6" width="33.8" height="33.8" fill="#00f"/>
<text x="487.2" y="2155.5" textLength="241" lengthAdjust="spacingAndGlyphs">Maxwell</text>
<circle cx="792.6" cy="2136.5" r="15.9" fill="#f00"/>
<text x="836.3" y="2155.5" textLength="177.5" lengthAdjust="spacingAndGlyphs">IRTM</text>
<rect x="1290" y="2119.6" width="33.8" height="33.8" fill="#00f"/>
<text x="1351.5" y="2155.5" textLength="241" lengthAdjust="spacingAndGlyphs">Maxwell</text>
<circle cx="1656.9" cy="2136.5" r="15.9" fill="#f00"/>
<text x="1700.6" y="2155.5" textLength="177.5" lengthAdjust="spacingAndGlyphs">IRTM</text>
<rect x="2151" y="2119.6" width="33.8" height="33.8" fill="#00f"/>
<text x="2212.5" y="2155.5" textLength="241" lengthAdjust="spacingAndGlyphs">Maxwell</text>
<circle cx="2517.9" cy="2136.5" r="15.9" fill="#f00"/>
<text x="2561.6" y="2155.5" textLength="177.5" lengthAdjust="spacingAndGlyphs">IRTM</text>
<rect x="3048.3" y="2116" width="11" height="40.3" rx="1.5" fill="#00f"/>
<text x="3082" y="2155.5" textLength="240.5" lengthAdjust="spacingAndGlyphs">Maxwell</text>
<rect x="3369.3" y="2117.8" width="9.2" height="37" rx="1.5" fill="#f00"/>
<text x="3401.4" y="2155.5" textLength="177.5" lengthAdjust="spacingAndGlyphs">IRTM</text>
</g>
</svg>
</body></html>
